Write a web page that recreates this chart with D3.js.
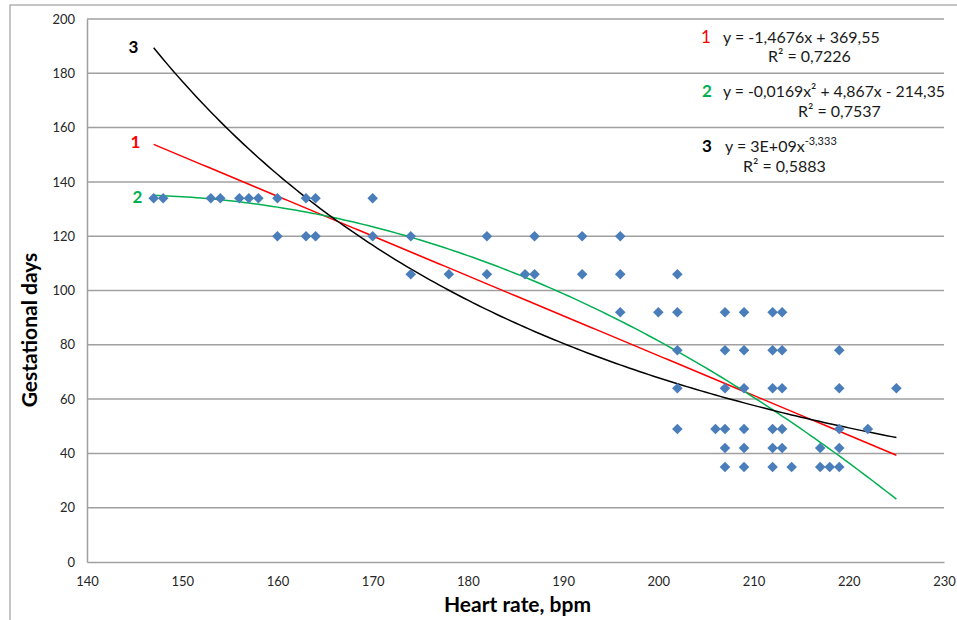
<!DOCTYPE html>
<html>
<head>
<meta charset="utf-8">
<script src="https://cdn.jsdelivr.net/npm/d3@7"></script>
<style>
  body { margin: 0; background: #fff; }
  text { font-family: Lato, "Open Sans", sans-serif; }
</style>
</head>
<body>
<svg id="chart" width="957" height="620"></svg>
<script>
// -------------------------------------------------------------
//   Data: heart rate (bpm) per gestational day
// -------------------------------------------------------------
var gest_days = [134, 120, 106, 92, 78, 64, 49, 42, 35];
var rates_134 = [147, 148, 153, 154, 156, 157, 158, 160, 163, 164, 170];
var rates_120 = [160, 163, 164, 170, 174, 182, 187, 192, 196];
var rates_106 = [174, 178, 182, 186, 187, 192, 196, 202];
var rates_92  = [196, 200, 202, 207, 209, 212, 213];
var rates_78  = [202, 207, 209, 212, 213, 219];
var rates_64  = [202, 207, 209, 212, 213, 219, 225];
var rates_49  = [202, 206, 207, 209, 212, 213, 219, 222];
var rates_42  = [207, 209, 212, 213, 217, 219];
var rates_35  = [207, 209, 212, 214, 217, 218, 219];
var rate_rows = [rates_134, rates_120, rates_106, rates_92, rates_78, rates_64, rates_49, rates_42, rates_35];

var x_ticks = [140, 150, 160, 170, 180, 190, 200, 210, 220, 230];
var y_ticks = [0, 20, 40, 60, 80, 100, 120, 140, 160, 180, 200];

// trend line coefficients (as printed in the chart, power factor)
var linear_coef = [369.55, -1.4676];            // a + b*x
var quad_coef   = [-214.35, 4.867, -0.01694];   // a + b*x + c*x^2
var power_coef  = [3.17e9, -3.333];             // a * x^b

var trend_ids    = ["1", "2", "3"];
var trend_colors = ["#ff0000", "#00b050", "#000000"];
var trend_r2     = ["0,7226", "0,7537", "0,5883"];

// flat list of points
var points = [];
rate_rows.forEach(function(row, i) {
  row.forEach(function(r) { points.push({x: r, y: gest_days[i]}); });
});

// -------------------------------------------------------------
//   Layout
// -------------------------------------------------------------
var svg = d3.select("#chart");
var plot = {left: 87, right: 944, top: 19, bottom: 562};

var xScale = d3.scaleLinear().domain([140, 230]).range([plot.left, plot.right]);
var yScale = d3.scaleLinear().domain([0, 200]).range([plot.bottom, plot.top]);

// outer frame
svg.append("rect")
    .attr("x", 10).attr("y", 5)
    .attr("width", 980).attr("height", 640)
    .style("fill", "none").style("stroke", "#8c8c8c").style("stroke-width", 1);

// gridlines
svg.append("g")
    .selectAll("line").data(y_ticks.filter(function(d) { return d > 0; }))
  .enter().append("line")
    .attr("x1", plot.left).attr("x2", plot.right)
    .attr("y1", function(d) { return yScale(d); })
    .attr("y2", function(d) { return yScale(d); })
    .style("stroke", "#a0a0a0").style("stroke-width", 1.5);

// axes
var xAxis = svg.append("g")
    .attr("transform", "translate(0," + plot.bottom + ")")
    .call(d3.axisBottom(xScale).tickValues(x_ticks).tickSize(0).tickPadding(15));
var yAxis = svg.append("g")
    .attr("transform", "translate(" + plot.left + ",0)")
    .call(d3.axisLeft(yScale).tickValues(y_ticks).tickSize(0).tickPadding(12));

[xAxis, yAxis].forEach(function(ax) {
  ax.select(".domain").style("stroke", "#a0a0a0").style("stroke-width", 1.5);
  ax.selectAll("text").style("font-size", "13px").style("fill", "#262626")
    .style("font-family", "Lato, sans-serif");
});

// axis titles
svg.append("text")
    .attr("x", (plot.left + plot.right) / 2 + 2).attr("y", 612)
    .attr("text-anchor", "middle")
    .style("font-size", "21px").style("font-weight", "bold")
    .text("Heart rate, bpm");

svg.append("text")
    .attr("transform", "translate(37," + 330 + ") rotate(-90)")
    .attr("text-anchor", "middle")
    .style("font-size", "21px").style("font-weight", "bold")
    .text("Gestational days");

// -------------------------------------------------------------
//   Trend lines
// -------------------------------------------------------------
var fits = [
  function(x) { return linear_coef[0] + linear_coef[1] * x; },
  function(x) { return quad_coef[0] + quad_coef[1] * x + quad_coef[2] * x * x; },
  function(x) { return power_coef[0] * Math.pow(x, power_coef[1]); }
];
var xMin = d3.min(points, function(d) { return d.x; });
var xMax = d3.max(points, function(d) { return d.x; });
var xs = d3.range(xMin, xMax + 0.01, 0.5);

var line = d3.line()
    .x(function(d) { return xScale(d[0]); })
    .y(function(d) { return yScale(d[1]); });

fits.forEach(function(f, i) {
  svg.append("path")
      .datum(xs.map(function(x) { return [x, f(x)]; }))
      .attr("d", line)
      .style("fill", "none")
      .style("stroke", trend_colors[i])
      .style("stroke-width", 1.5);
});

// -------------------------------------------------------------
//   Points (Excel style diamonds)
// -------------------------------------------------------------
svg.append("g")
    .selectAll("path").data(points)
  .enter().append("path")
    .attr("d", d3.symbol().type(d3.symbolSquare).size(56))
    .attr("transform", function(d) {
      return "translate(" + xScale(d.x) + "," + yScale(d.y) + ") rotate(45)";
    })
    .style("fill", "#4a7ebb");

// line numbers next to the curve starts
var start_labels = [{x: 135.5, y: 142}, {x: 137.5, y: 197}, {x: 133.5, y: 47}];
start_labels.forEach(function(p, i) {
  svg.append("text")
      .attr("x", p.x).attr("y", p.y + 6)
      .attr("text-anchor", "middle")
      .style("font-size", "17px").style("font-weight", "bold")
      .style("fill", trend_colors[i])
      .text(trend_ids[i]);
});

// -------------------------------------------------------------
//   Equation box
// -------------------------------------------------------------
var eq = svg.append("g").style("font-size", "16px").style("fill", "#1a1a1a");

function numLabel(x, y, i) {
  eq.append("text").attr("x", x).attr("y", y)
      .style("font-weight", i == 0 ? "normal" : "bold")
      .style("fill", trend_colors[i]).style("font-size", "17px")
      .text(trend_ids[i]);
}

numLabel(701, 43, 0);
eq.append("text").attr("x", 723).attr("y", 43).text("y = -1,4676x + 369,55");
eq.append("text").attr("x", 768).attr("y", 62).text("R² = " + trend_r2[0]);

numLabel(702, 97, 1);
eq.append("text").attr("x", 723).attr("y", 97)
    .attr("textLength", 222).attr("lengthAdjust", "spacingAndGlyphs")
    .text("y = -0,0169x² + 4,867x - 214,35");
eq.append("text").attr("x", 798).attr("y", 117).text("R² = " + trend_r2[1]);

numLabel(702, 152, 2);
var t3 = eq.append("text").attr("x", 725).attr("y", 152);
t3.append("tspan").text("y = 3E+09x");
t3.append("tspan").attr("dy", -7).style("font-size", "11px").text("-3,333");
eq.append("text").attr("x", 743).attr("y", 172).text("R² = " + trend_r2[2]);
</script>
</body>
</html>
